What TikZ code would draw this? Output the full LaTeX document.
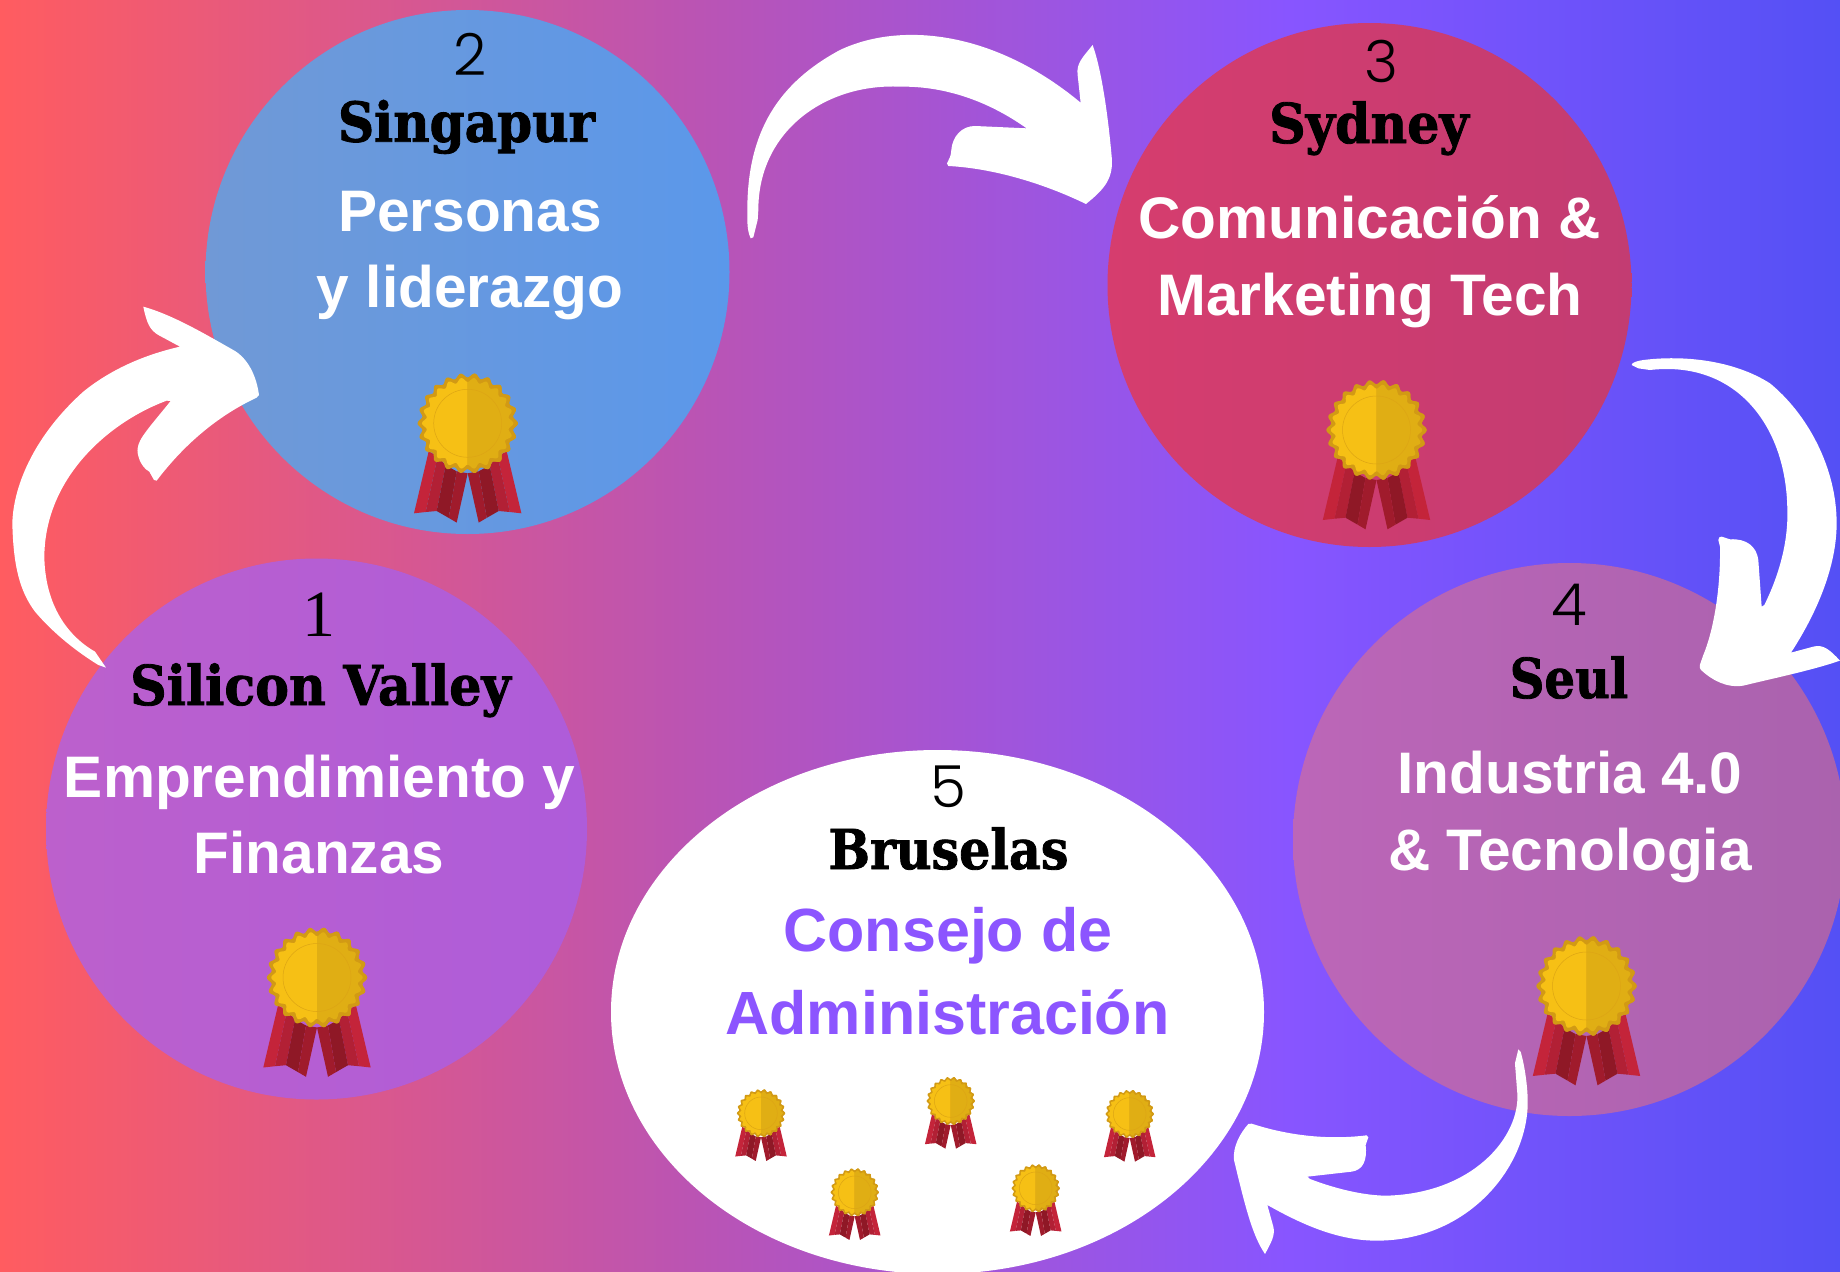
\documentclass[tikz,border=0pt]{standalone}
\usepackage{fontspec}
\usetikzlibrary{shapes.geometric}
\setmainfont{Liberation Sans}
\newfontfamily\numfam{Poppins Light}
\newfontfamily\onefam{Liberation Serif}
\newfontfamily\titfam[FakeStretch=0.92,FakeBold=1.5]{DejaVu Serif}
\newfontfamily\lblfam{Liberation Sans}
\definecolor{bgA}{HTML}{FF5C60}
\definecolor{bgB}{HTML}{BA54B4}
\definecolor{bgC}{HTML}{8855FF}
\definecolor{bgD}{HTML}{5450F5}
\definecolor{goldL}{HTML}{F6C015}
\definecolor{goldR}{HTML}{E0AE14}
\definecolor{goldE}{HTML}{D29A14}
\definecolor{ribA}{HTML}{C4243A}
\definecolor{ribB}{HTML}{B22035}
\definecolor{ribC}{HTML}{8F1826}
\definecolor{ribD}{HTML}{A01B2C}
\definecolor{violetT}{HTML}{8C55FF}
\definecolor{oneL}{HTML}{BC60CC}
\definecolor{oneR}{HTML}{AE5CDA}
\definecolor{twoL}{HTML}{7099D6}
\definecolor{twoR}{HTML}{5B98EA}
\definecolor{thrL}{HTML}{D63D6E}
\definecolor{thrR}{HTML}{C33C72}
\definecolor{fouL}{HTML}{BC66B8}
\definecolor{fouR}{HTML}{AA62AE}
\pgfdeclarehorizontalshading{bgshade}{100bp}{color(0bp)=(bgA); color(25bp)=(bgA); color(44bp)=(bgB); color(60bp)=(bgC); color(75bp)=(bgD); color(100bp)=(bgD)}
\newcommand\ribhalf{%
    \fill[ribA] (-39,28) -- (-53.7,90) -- (-42,88.7) -- (-30,33) -- cycle;
    \fill[ribB] (-30,33) -- (-42,88.7) -- (-31,87.7) -- (-22,42) -- cycle;
    \fill[ribC] (-22,42) -- (-31,87.7) -- (-19,94.6) -- (-11,48) -- cycle;
    \fill[ribD] (-11,48) -- (-19,94.6) -- (-11,99.3) -- (0,50) -- cycle;
}
\tikzset{
  disc/.style={circle,draw=none,inner sep=0pt,minimum size=#1},
  num/.style={anchor=base,inner sep=0pt,text=black,font=\numfam\fontsize{58}{70}\selectfont},
  title/.style={anchor=base,inner sep=0pt,text=black,font=\titfam\bfseries\fontsize{55}{66}\selectfont},
  lbl/.style={anchor=base,inner sep=0pt,text=white,font=\lblfam\bfseries\fontsize{58.6}{70}\selectfont},
  lblv/.style={anchor=base,inner sep=0pt,text=violetT,font=\lblfam\bfseries\fontsize{61}{72}\selectfont},
  arrowshape/.style={fill=white,draw=none},
  medal/.pic={
    \ribhalf
    \begin{scope}[xscale=-1]\ribhalf\end{scope}
    \fill[goldE] plot[domain=0:360,samples=221] ({(48+2.2*cos(22*\x))*cos(\x)},{(48+2.2*cos(22*\x))*sin(\x)}) -- cycle;
    \fill[goldL] plot[domain=0:360,samples=221] ({(43.5+2.2*cos(22*\x))*cos(\x)},{(43.5+2.2*cos(22*\x))*sin(\x)}) -- cycle;
    \begin{scope}
      \clip (0,-60) rectangle (60,60);
      \fill[goldE] plot[domain=0:360,samples=221] ({(48+2.2*cos(22*\x))*cos(\x)},{(48+2.2*cos(22*\x))*sin(\x)}) -- cycle;
      \fill[goldR] plot[domain=0:360,samples=221] ({(43.5+2.2*cos(22*\x))*cos(\x)},{(43.5+2.2*cos(22*\x))*sin(\x)}) -- cycle;
    \end{scope}
    \draw[goldE!70!goldL,line width=.5pt] (0,0) circle (34);
  }
}
\begin{document}
\begin{tikzpicture}[x=1pt,y=-1pt]
\useasboundingbox (0,0) rectangle (1840,1272);
\shade[shading=bgshade] (0,0) rectangle (1840,1272);
% discs
\node[disc=541pt,left color=oneL,right color=oneR] (c1) at (316.5,829) {};
\node[disc=524pt,left color=twoL,right color=twoR] (c2) at (467.5,272) {};
\node[disc=524pt,left color=thrL,right color=thrR] (c3) at (1369.5,285) {};
\node[disc=553pt,left color=fouL,right color=fouR] (c4) at (1569.5,839.5) {};
\node[ellipse,draw=none,fill=white,inner sep=0pt,minimum width=653pt,minimum height=524pt] (c5) at (937.5,1012) {};
% arrows
\begin{scope}[shift={(700,0)},x=.3333pt,y=-.3333pt]
\path[arrowshape] (152,715) .. controls (145,700) and (141,680) .. (142,640)
 .. controls (140,420) and (215,260) .. (420,150)
 .. controls (600,65) and (880,90) .. (1142,308)
 -- (1133,225) .. controls (1128,190) and (1150,170) .. (1178,135)
 .. controls (1205,210) and (1225,350) .. (1236,480)
 .. controls (1238,540) and (1210,570) .. (1158,612)
 .. controls (1030,550) and (880,505) .. (745,498) -- (741,490)
 .. controls (748,475) and (753,470) .. (754,450)
 .. controls (757,410) and (785,378) .. (825,378) -- (980,385)
 .. controls (860,300) and (730,258) .. (600,260)
 .. controls (380,250) and (175,390) .. (175,630)
 -- (173,660) -- (160,712) -- cycle;
\end{scope}
\begin{scope}[shift={(0,290)},x=.3333pt,y=-.3333pt]
\path[arrowshape] (318,1133) -- (295,1125)
 .. controls (230,1085) and (160,1030) .. (105,965)
 .. controls (60,905) and (40,830) .. (37,700)
 .. controls (40,580) and (110,430) .. (250,305)
 .. controls (330,240) and (430,195) .. (540,170)
 -- (475,135) .. controls (450,120) and (440,100) .. (430,50)
 .. controls (520,75) and (620,135) .. (700,180)
 .. controls (745,205) and (770,260) .. (777,315) -- (770,323)
 .. controls (680,365) and (570,440) .. (470,572) -- (462,570)
 -- (448,545) .. controls (420,530) and (410,490) .. (413,475)
 .. controls (416,445) and (450,410) .. (512,333) -- (500,332)
 .. controls (330,395) and (135,560) .. (133,800)
 .. controls (135,930) and (190,1030) .. (285,1085) -- cycle;
\end{scope}
\begin{scope}[shift={(1600,340)},x=.3333pt,y=-.3333pt]
\path[arrowshape] (95,75) .. controls (95,68) and (110,63) .. (130,60)
 .. controls (250,45) and (400,60) .. (510,130)
 .. controls (620,220) and (710,380) .. (710,550)
 .. controls (710,680) and (650,820) .. (573,938)
 -- (640,920) .. controls (670,912) and (690,930) .. (720,962)
 .. controls (640,990) and (520,1015) .. (430,1037)
 .. controls (380,1045) and (335,1020) .. (303,990)
 .. controls (295,980) and (300,975) .. (310,945)
 .. controls (345,860) and (362,730) .. (360,620)
 -- (355,600) .. controls (355,592) and (360,590) .. (365,590)
 -- (390,598) .. controls (440,595) and (470,620) .. (475,660)
 -- (485,800) -- (493,795)
 .. controls (540,700) and (565,600) .. (562,510)
 .. controls (560,260) and (410,60) .. (150,90) -- (115,85) -- cycle;
\end{scope}
\begin{scope}[shift={(1210,1030)},x=.3333pt,y=-.3333pt]
\path[arrowshape] (925,58) -- (932,65) .. controls (945,110) and (955,180) .. (953,230)
 .. controls (945,420) and (770,632) .. (500,632)
 .. controls (380,632) and (270,580) .. (172,525)
 -- (190,590) .. controls (196,615) and (185,635) .. (165,672)
 .. controls (130,620) and (110,550) .. (72,390)
 .. controls (68,350) and (90,310) .. (115,282) -- (125,281)
 .. controls (220,312) and (340,332) .. (470,316) -- (475,322)
 -- (467,345) .. controls (472,390) and (460,420) .. (425,425)
 -- (292,440) -- (300,447)
 .. controls (400,485) and (480,497) .. (530,497)
 .. controls (790,490) and (930,320) .. (922,190) -- (915,100) -- cycle;
\end{scope}
% medals
\pic (m1) at (317,977.5) {medal};
\pic (m2) at (467.7,423.3) {medal};
\pic (m3) at (1376.5,430) {medal};
\pic (m4) at (1586.5,986) {medal};
\pic[scale=.48] (m5a) at (761,1113.3) {medal};
\pic[scale=.48] (m5b) at (950.7,1101) {medal};
\pic[scale=.48] (m5c) at (1129.7,1114) {medal};
\pic[scale=.48] (m5d) at (854.7,1192.3) {medal};
\pic[scale=.48] (m5e) at (1035.7,1188.3) {medal};
% text
\node[num,font=\onefam\fontsize{66}{70}\selectfont] (n1) at (319,636) {1};
\node[title] (t1) at (320.5,705) {Silicon Valley};
\node[lbl] (l1a) at (319.6,797.7) {Emprendimiento y};
\node[lbl] (l1b) at (319,873.3) {Finanzas};
\node[num] (n2) at (470,75) {2};
\node[title] (t2) at (466.5,141.7) {\scalebox{.99}[1]{Singapur}};
\node[lbl] (l2a) at (470,231.7) {Personas};
\node[lbl] (l2b) at (470,307.7) {y liderazgo};
\node[num] (n3) at (1381,82) {3};
\node[title] (t3) at (1369,143) {Sydney};
\node[lbl] (l3a) at (1369.5,238.4) {Comunicación \&};
\node[lbl] (l3b) at (1370,315.7) {Marketing Tech};
\node[num] (n4) at (1569.5,625.5) {4};
\node[title] (t4) at (1569,698) {\scalebox{.95}[1]{Seul}};
\node[lbl] (l4a) at (1570,793.5) {Industria 4.0};
\node[lbl] (l4b) at (1570,870) {\& Tecnologia};
\node[num] (n5) at (948,807) {5};
\node[title] (t5) at (948.5,869) {\scalebox{.97}[1]{Bruselas}};
\node[lblv] (l5a) at (948,951.7) {Consejo de};
\node[lblv] (l5b) at (947.5,1034) {Administración};
\end{tikzpicture}
\end{document}
